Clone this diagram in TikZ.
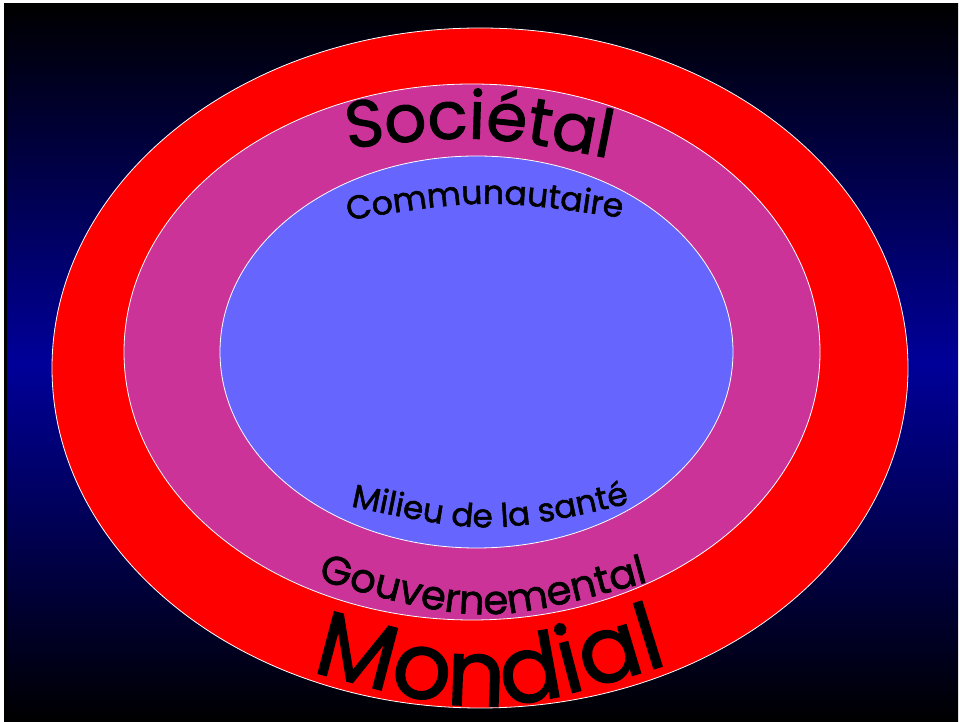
\documentclass[tikz,border=0pt]{standalone}
\usepackage{fontspec}
\setmainfont{Poppins}[FakeBold=1.6]
\usetikzlibrary{decorations.text}
\definecolor{bgblue}{RGB}{0,0,153}
\definecolor{ringred}{RGB}{255,0,0}
\definecolor{ringmag}{RGB}{204,51,153}
\definecolor{ringblue}{RGB}{102,102,255}
\tikzset{
  ring/.style={draw=white, line width=0.8pt},
  curvetext/.style={decorate, decoration={text along path, text align=center, text={#1}}},
}
\begin{document}
\begin{tikzpicture}[x=1pt,y=1pt]
\useasboundingbox (0,0) rectangle (960,722);
\fill[white] (0,0) rectangle (960,722);
\shade[top color=black, bottom color=black, middle color=bgblue] (4,0) rectangle (958,718);
\fill[black] (4,0) rectangle (7,718);
% rings
\path[ring, fill=ringred] (480,354) ellipse [x radius=428, y radius=340];
\path[ring, fill=ringmag] (472,370) ellipse [x radius=348, y radius=268];
\path[ring, fill=ringblue] (476.5,370) ellipse [x radius=256.5, y radius=196];
% labels along arcs
\coordinate (s1) at (313,569); \coordinate (s2) at (643,557);
\path[curvetext={|\fontsize{66}{66}\selectfont|Sociétal}] (s1) .. controls (478,590) .. (s2);
\coordinate (c1) at (315,496); \coordinate (c2) at (655,499);
\path[curvetext={|\fontsize{33}{33}\selectfont|Communautaire}] (c1) .. controls (485,525) .. (c2);
\coordinate (m1) at (335,219); \coordinate (m2) at (645,222);
\path[curvetext={|\fontsize{32.5}{32.5}\selectfont|Milieu de la santé}] (m1) .. controls (490,186) .. (m2);
\coordinate (g1) at (300,147); \coordinate (g2) at (666,145);
\path[curvetext={|\fontsize{40}{40}\selectfont|Gouvernemental}] (g1) .. controls (483,95) .. (g2);
\coordinate (w1) at (295,55); \coordinate (w2) at (685,63);
\path[curvetext={|\fontsize{92}{92}\selectfont|Mondial}] (w1) .. controls (490,2) .. (w2);
\end{tikzpicture}
\end{document}
